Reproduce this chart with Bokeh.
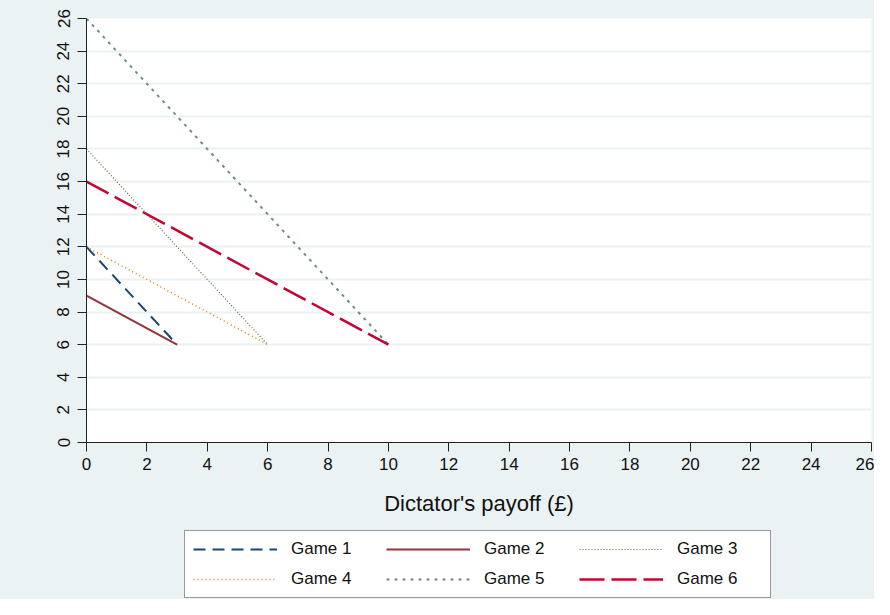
from bokeh.plotting import figure
from bokeh.models import Legend, LegendItem, FixedTicker
from bokeh.layouts import column
from bokeh.embed import file_html
from bokeh.resources import INLINE

# ---- data ----
games = ["Game 1", "Game 2", "Game 3", "Game 4", "Game 5", "Game 6"]
dictator_start = [0, 0, 0, 0, 0, 0]
dictator_end = [3, 3, 6, 6, 10, 10]
recipient_start = [12, 9, 18, 12, 26, 16]
recipient_end = [6, 6, 6, 6, 6, 6]
ticks = list(range(0, 27, 2))

colors = ["#1a476f", "#90353b", "#55752f", "#e37e00", "#6e8e84", "#c10534"]
dashes = ["12 7", "solid", "1 2", "1 3", "3 5", "25 7"]
widths = [2, 2, 1.2, 1.5, 2, 2.5]

FONT = "Liberation Sans"
BG = "#EAF2F3"
W = 874

p = figure(width=W, height=529, x_range=(0, 26), y_range=(0, 26),
           output_backend="svg", toolbar_location=None,
           background_fill_color="white", border_fill_color=BG,
           min_border_left=86, min_border_right=3, min_border_top=18,
           min_border_bottom=87)
p.outline_line_color = None

for i, g in enumerate(games):
    p.line([dictator_start[i], dictator_end[i]],
           [recipient_start[i], recipient_end[i]],
           line_color=colors[i], line_dash=dashes[i], line_width=widths[i])

# axes
for ax in (p.xaxis[0], p.yaxis[0]):
    ax.ticker = FixedTicker(ticks=ticks)
    ax.minor_tick_line_color = None
    ax.major_tick_out = 9
    ax.major_tick_in = 0
    ax.axis_line_color = "#222222"
    ax.major_tick_line_color = "#222222"
    ax.major_label_text_font = FONT
    ax.major_label_text_font_size = "17px"
    ax.major_label_text_color = "#111111"

p.yaxis.major_label_orientation = "vertical"
p.yaxis.major_label_standoff = 8
p.xaxis.major_label_standoff = 6
p.xaxis.axis_label = "Dictator's payoff (\u00a3)"
p.xaxis.axis_label_text_font = FONT
p.xaxis.axis_label_text_font_size = "22px"
p.xaxis.axis_label_text_font_style = "normal"
p.xaxis.axis_label_text_color = "#111111"
p.xaxis.axis_label_standoff = 18

# grid
p.xgrid.grid_line_color = None
p.ygrid.ticker = FixedTicker(ticks=ticks)
p.ygrid.grid_line_color = BG
p.ygrid.grid_line_width = 2

# ---- legend strip (separate figure so the legend is not clipped) ----
p2 = figure(width=W, height=70, x_range=(100, 101), y_range=(100, 101),
            output_backend="svg", toolbar_location=None,
            x_axis_location=None, y_axis_location=None,
            background_fill_color=BG, border_fill_color=BG, min_border=0)
p2.outline_line_color = None
p2.xgrid.grid_line_color = None
p2.ygrid.grid_line_color = None

items = []
for i, g in enumerate(games):
    r = p2.line([dictator_start[i], dictator_end[i]],
                [recipient_start[i], recipient_end[i]],
                line_color=colors[i], line_dash=dashes[i], line_width=widths[i])
    items.append(LegendItem(label=g, renderers=[r]))

legend = Legend(items=items, orientation="horizontal", ncols=3,
                location=(98, 1),
                glyph_width=84, glyph_height=20, label_standoff=14,
                label_width=85, label_height=20, spacing=10, padding=8,
                margin=0,
                label_text_font=FONT, label_text_font_size="17px",
                label_text_color="#111111",
                border_line_color="#333333", border_line_width=1,
                background_fill_color="white", background_fill_alpha=1)
p2.add_layout(legend, "center")

layout = column(p, p2, spacing=0, styles={"background-color": BG})
open("out.html", "w").write(file_html(layout, INLINE))
